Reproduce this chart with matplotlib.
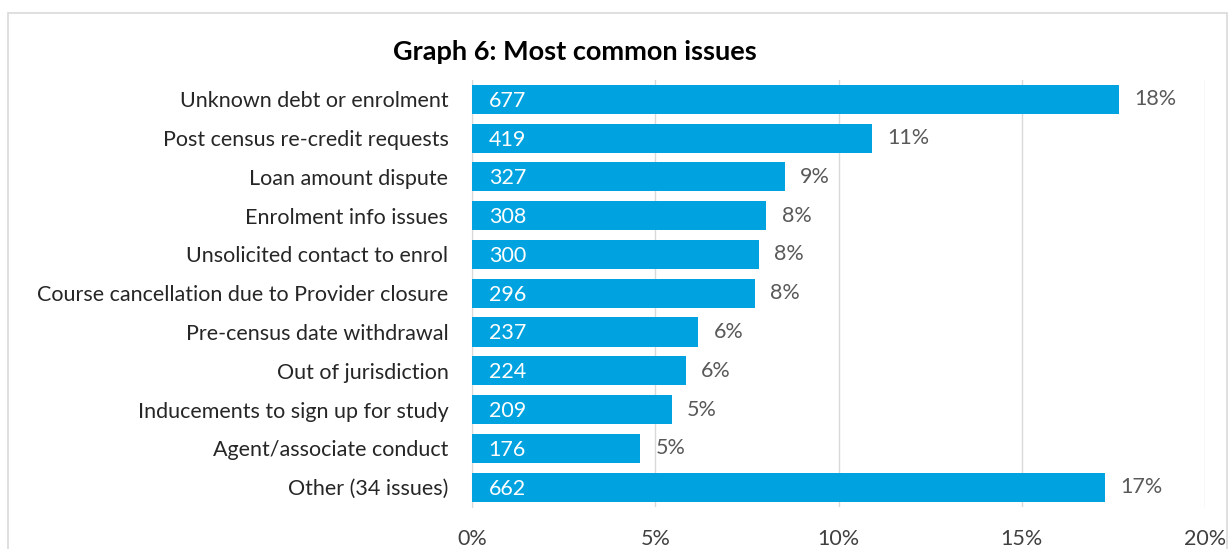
import matplotlib
matplotlib.use("Agg")
import matplotlib.pyplot as plt
from matplotlib.patches import Rectangle
from matplotlib.ticker import FuncFormatter

categories = [
    "Unknown debt or enrolment",
    "Post census re-credit requests",
    "Loan amount dispute",
    "Enrolment info issues",
    "Unsolicited contact to enrol",
    "Course cancellation due to Provider closure",
    "Pre-census date withdrawal",
    "Out of jurisdiction",
    "Inducements to sign up for study",
    "Agent/associate conduct",
    "Other (34 issues)",
]
counts = [677, 419, 327, 308, 300, 296, 237, 224, 209, 176, 662]
pct_labels = ["18%", "11%", "9%", "8%", "8%", "8%", "6%", "6%", "5%", "5%", "17%"]
x_ticks = [0, 0.05, 0.10, 0.15, 0.20]

total = sum(counts)
shares = [c / total for c in counts]

plt.rcParams['font.family'] = ['Lato', 'DejaVu Sans']

W, H = 1230, 549
fig = plt.figure(figsize=(W / 100, H / 100), dpi=100)
ax = fig.add_axes([472 / W, 1 - 506.5 / H, (1205 - 472) / W, (506.5 - 80) / H])

# outer border
fig.patches.append(Rectangle((8 / W, -0.1), (1227 - 8) / W, 1.1 - 13 / H,
                             transform=fig.transFigure, fill=False,
                             edgecolor="#D9D9D9", linewidth=1.2))

bar_color = "#00A3E0"
fs = 15.5
y = list(range(len(categories)))
ax.barh(y, shares, height=0.75, color=bar_color, zorder=3)
ax.set_ylim(len(categories) - 0.5, -0.5)
ax.set_xlim(0, 0.20)
ax.set_yticks(y)
ax.set_yticklabels(categories, fontsize=fs, color="#262626")
ax.set_xticks(x_ticks)
ax.xaxis.set_major_formatter(FuncFormatter(lambda v, p: f"{v*100:.0f}%"))
ax.tick_params(axis="x", labelsize=fs, labelcolor="#404040", length=0, pad=16)
ax.tick_params(axis="y", length=0, pad=17)
ax.grid(axis="x", color="#D9D9D9", linewidth=1, zorder=0)
for s in ["top", "right", "bottom"]:
    ax.spines[s].set_visible(False)
ax.spines["left"].set_color("#D9D9D9")

for yi, sh, c, pl in zip(y, shares, counts, pct_labels):
    ax.annotate(str(c), xy=(0, yi), xytext=(12, -1), textcoords="offset points",
                ha="left", va="center", color="white", fontsize=fs, zorder=4)
    ax.annotate(pl, xy=(sh, yi), xytext=(11, 0), textcoords="offset points",
                ha="left", va="center", color="#595959", fontsize=fs, zorder=4)

fig.text(575 / W, 1 - 52 / H, "Graph 6: Most common issues", ha="center", va="center",
         fontsize=19.5, fontweight="bold", color="#000000")

fig.savefig("out.png", dpi=100)
